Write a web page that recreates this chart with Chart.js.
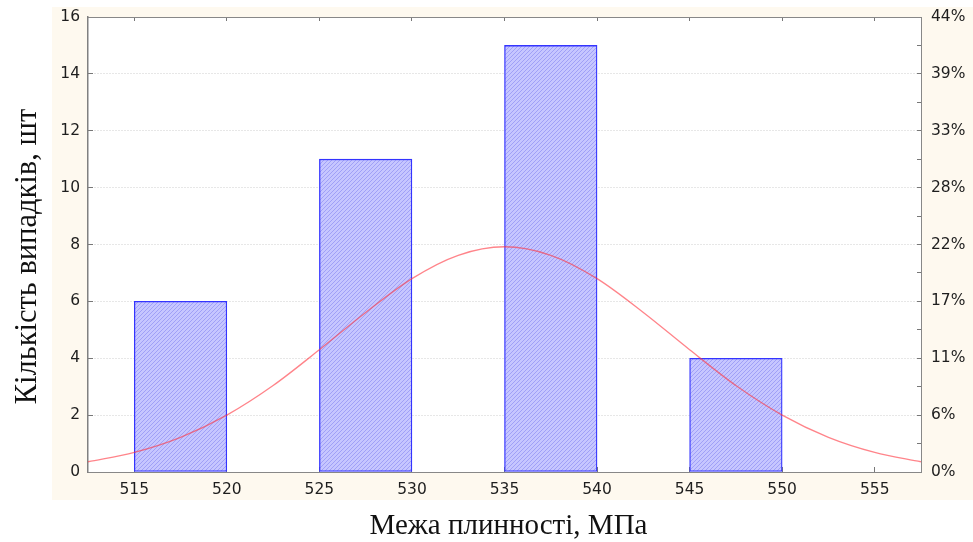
<!DOCTYPE html>
<html><head><meta charset="utf-8">
<script src="https://cdn.jsdelivr.net/npm/chart.js@4.4.1/dist/chart.umd.min.js"></script>
<style>html,body{margin:0;padding:0;background:#fff;}#wrap{width:973px;height:542px;position:relative;}</style>
</head><body><div id="wrap"><canvas id="c" width="973" height="542"></canvas></div>
<script>
// ---- data ----
const binCenters = [517.5, 527.5, 537.5, 547.5];
const counts = [6, 11, 15, 4];
const curveX = [512.5, 515, 517.5, 520, 522.5, 525, 527.5, 530, 532.5, 535, 537.5, 540, 542.5, 545, 547.5, 550, 552.5, 555, 557.5];
const curveY = [0.36, 0.69, 1.22, 2.0, 3.04, 4.3, 5.61, 6.8, 7.62, 7.92, 7.62, 6.8, 5.61, 4.3, 3.04, 2.0, 1.22, 0.69, 0.36];
const xTicks = [515, 520, 525, 530, 535, 540, 545, 550, 555];
const yTicks = [0, 2, 4, 6, 8, 10, 12, 14, 16];
const pctLabels = ['0%', '6%', '11%', '17%', '22%', '28%', '33%', '39%', '44%'];
const xTitle = 'Межа плинності, МПа';
const yTitle = 'Кількість випадків, шт';

function makePattern() {
  const c = document.createElement('canvas');
  c.width = 4; c.height = 4;
  const g = c.getContext('2d');
  g.fillStyle = '#c6c6ff'; g.fillRect(0, 0, 4, 4);
  g.fillStyle = '#a0a0f7';
  for (let i = 0; i < 4; i++) g.fillRect(i, 3 - i, 1, 1);
  return g.createPattern(c, 'repeat');
}

const tickFont = {family: '"DejaVu Sans", Verdana, sans-serif', size: 15.5};
const serif = 'Liberation Serif, "Times New Roman", serif';

const bgPlugin = {
  id: 'bg',
  beforeDraw(chart) {
    const {ctx, chartArea: a, width} = chart;
    ctx.save();
    ctx.fillStyle = '#fef9ef';
    ctx.fillRect(a.left - 36, a.top - 10, width - (a.left - 36), (a.bottom + 28) - (a.top - 10));
    ctx.fillStyle = '#ffffff';
    ctx.fillRect(a.left, a.top, a.right - a.left, a.bottom - a.top);
    ctx.restore();
  },
  afterDraw(chart) {
    const {ctx, chartArea: a} = chart;
    ctx.save();
    ctx.fillStyle = '#111';
    ctx.textAlign = 'center';
    ctx.textBaseline = 'middle';
    ctx.font = '29px ' + serif;
    ctx.fillText(xTitle, (a.left + a.right) / 2 + 4, a.bottom + 54);
    ctx.translate(a.left - 60, (a.top + a.bottom) / 2 + 12);
    ctx.rotate(-Math.PI / 2);
    ctx.font = '30.5px ' + serif;
    ctx.fillText(yTitle, 0, 0);
    ctx.restore();
  }
};

const noPad = s => { s.paddingTop = 0; s.paddingBottom = 0; s.paddingLeft = 0; s.paddingRight = 0; };

new Chart(document.getElementById('c'), {
  type: 'bar',
  data: {
    datasets: [
      {
        type: 'line',
        data: curveX.map((x, i) => ({x, y: curveY[i]})),
        borderColor: 'rgba(255,50,60,0.6)',
        borderWidth: 1.3,
        pointRadius: 0,
        tension: 0.4,
        cubicInterpolationMode: 'monotone',
        fill: false,
        xAxisID: 'x', yAxisID: 'y',
        order: 0
      },
      {
        type: 'bar',
        data: binCenters.map((x, i) => ({x, y: counts[i]})),
        backgroundColor: makePattern(),
        borderColor: '#3434ff',
        borderWidth: 1.3,
        borderSkipped: false,
        categoryPercentage: 1,
        barPercentage: 1,
        xAxisID: 'x', yAxisID: 'y',
        order: 1
      }
    ]
  },
  options: {
    responsive: false,
    devicePixelRatio: 1,
    animation: false,
    layout: {padding: 0},
    plugins: {legend: {display: false}, tooltip: {enabled: false}},
    scales: {
      x: {
        type: 'linear', position: 'bottom', min: 512.5, max: 557.5, offset: false,
        afterBuildTicks: s => { s.ticks = xTicks.map(v => ({value: v})); },
        afterFit: s => { s.height = 70; noPad(s); },
        grid: {drawOnChartArea: false, drawTicks: true, tickLength: -5, tickColor: '#777', offset: false},
        border: {color: '#888', width: 1},
        ticks: {font: tickFont, color: '#1e1e1e', padding: 14, autoSkip: false, maxRotation: 0, callback: v => String(v)}
      },
      x2: {
        type: 'linear', position: 'top', min: 512.5, max: 557.5, offset: false,
        afterBuildTicks: s => { s.ticks = xTicks.map(v => ({value: v})); },
        afterFit: s => { s.height = 17; noPad(s); },
        grid: {drawOnChartArea: false, drawTicks: true, tickLength: -4, tickColor: '#777', offset: false},
        border: {color: '#888', width: 1},
        ticks: {display: false}
      },
      y: {
        position: 'left', min: 0, max: 16,
        afterBuildTicks: s => { s.ticks = yTicks.map(v => ({value: v})); },
        afterFit: s => { s.width = 88; noPad(s); },
        grid: {color: '#cfcfcf', drawTicks: true, tickLength: -5, tickColor: '#777'},
        border: {color: '#808080', width: 1.5, dash: [1, 2]},
        ticks: {font: tickFont, color: '#1e1e1e', padding: 13, autoSkip: false, callback: v => String(v)}
      },
      y2: {
        position: 'right', min: 0, max: 16,
        afterBuildTicks: s => { const t = []; for (let v = 0; v <= 16; v++) t.push({value: v}); s.ticks = t; },
        afterFit: s => { s.width = 52; noPad(s); },
        grid: {drawOnChartArea: false, drawTicks: true, tickLength: -4, tickColor: '#777'},
        border: {color: '#888', width: 1},
        ticks: {font: tickFont, color: '#1e1e1e', padding: 14, autoSkip: false,
          callback: v => (v % 2 === 0 ? pctLabels[v / 2] : '')}
      }
    }
  },
  plugins: [bgPlugin]
});
</script>
</body></html>
